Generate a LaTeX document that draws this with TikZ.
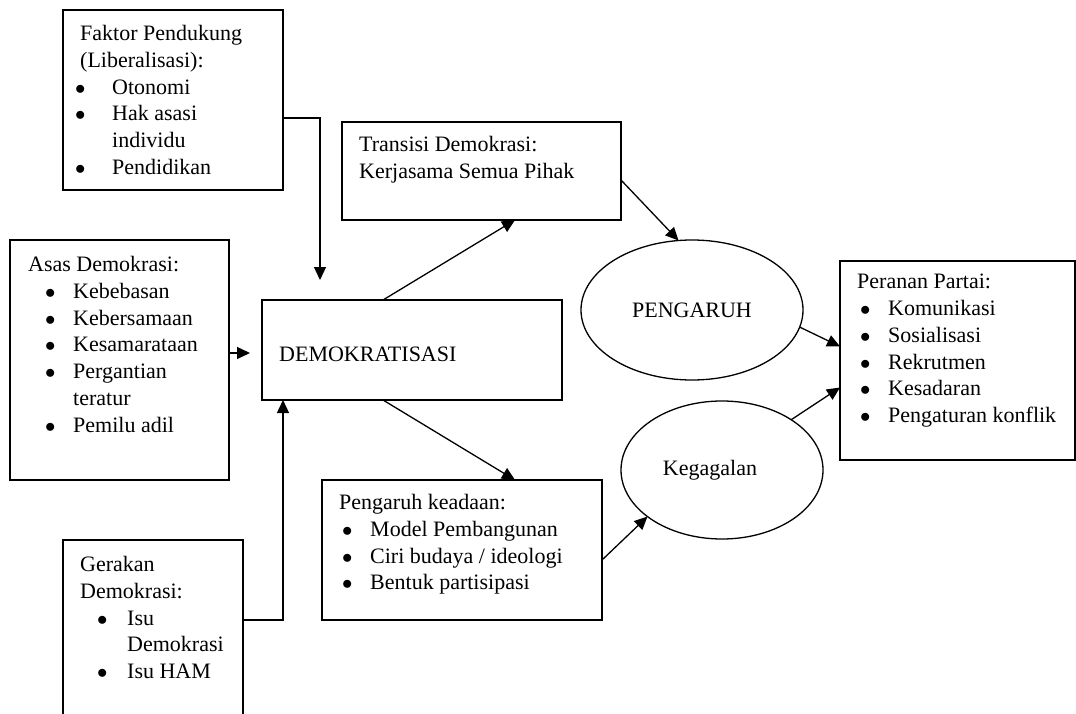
\documentclass[tikz,border=0pt]{standalone}
\usepackage{fontspec}
\setmainfont{Liberation Serif}
\usetikzlibrary{arrows.meta, positioning, shapes.geometric, calc}

\newcommand{\bul}[2]{\hspace*{#1}\makebox[#2][l]{$\bullet$}}

\begin{document}
\begin{tikzpicture}[x=1pt, y=-1pt,
  box/.style={draw, line width=1.3pt, inner sep=0pt, outer sep=0pt,
              anchor=north west},
  oval/.style={draw, ellipse, line width=1.3pt, inner sep=0pt,
               outer sep=0pt, font=\fontsize{22}{26.8}\selectfont},
  txt/.style={inner sep=0pt, anchor=north west, align=left,
              font=\fontsize{22}{26.8}\selectfont},
  link/.style={line width=1.3pt, -{Triangle[length=13pt, width=12pt]}},
]
  \clip (0,0) rectangle (1076,714);

  % === Boxes ===
  \node[box, minimum width=220pt, minimum height=180pt] (faktor) at (63,10) {};
  \node[box, minimum width=219pt, minimum height=240pt] (asas)   at (10,240) {};
  \node[box, minimum width=180pt, minimum height=230pt] (gerak)  at (63,540) {};
  \node[box, minimum width=300pt, minimum height=100pt] (demo)   at (262,300) {};
  \node[box, minimum width=279pt, minimum height=98pt]  (trans)  at (342,122) {};
  \node[box, minimum width=280pt, minimum height=140pt] (keadaan) at (322,480) {};
  \node[box, minimum width=235pt, minimum height=199pt] (peran)  at (840,261) {};

  % === Ellipses ===
  \node[oval, minimum width=222pt, minimum height=140pt] (peng) at (692,310)
    {PENGARUH};
  \node[oval, minimum width=202pt, minimum height=138pt] (keg)  at (722,470)
    {\hspace*{-24pt}Kegagalan};

  % === Texts ===
  \node[txt] (faktortxt) at (80,25) {%
    Faktor Pendukung\\
    (Liberalisasi):\\
    \bul{-5pt}{37pt}Otonomi\\
    \bul{-5pt}{37pt}Hak asasi\\
    \hspace*{32pt}individu\\
    \bul{-5pt}{37pt}Pendidikan};

  \node[txt] (asastxt) at (28,256) {%
    Asas Demokrasi:\\
    \bul{17pt}{28pt}Kebebasan\\
    \bul{17pt}{28pt}Kebersamaan\\
    \bul{17pt}{28pt}Kesamarataan\\
    \bul{17pt}{28pt}Pergantian\\
    \hspace*{45pt}teratur\\
    \bul{17pt}{28pt}Pemilu adil};

  \node[txt] (geraktxt) at (80,556) {%
    Gerakan\\
    Demokrasi:\\
    \bul{17pt}{30pt}Isu\\
    \hspace*{47pt}Demokrasi\\
    \bul{17pt}{30pt}Isu HAM};

  \node[txt, anchor=west] (demotxt) at (279,354) {DEMOKRATISASI};

  \node[txt] (transtxt) at (359,136) {%
    Transisi Demokrasi:\\
    Kerjasama Semua Pihak};

  \node[txt] (keadaantxt) at (339,494) {%
    Pengaruh keadaan:\\
    \bul{3pt}{28pt}Model Pembangunan\\
    \bul{3pt}{28pt}Ciri budaya / ideologi\\
    \bul{3pt}{28pt}Bentuk partisipasi};

  \node[txt] (perantxt) at (857,274) {%
    Peranan Partai:\\
    \bul{3pt}{28pt}Komunikasi\\
    \bul{3pt}{28pt}Sosialisasi\\
    \bul{3pt}{28pt}Rekrutmen\\
    \bul{3pt}{28pt}Kesadaran\\
    \bul{3pt}{28pt}Pengaturan konflik};

  % === Connectors ===
  \draw[link] ([yshift=-18pt]faktor.east)
    -| ([xshift=58pt, yshift=20pt]demo.north west);
  \draw[link] ([yshift=7pt]asas.east) -- ([xshift=-12pt, yshift=-3pt]demo.west);
  \draw[link] ([yshift=-80pt]gerak.north east) -| ([xshift=21pt]demo.south west);
  \draw[link] ([xshift=121pt]demo.north west) -- ([xshift=173pt]trans.south west);
  \draw[link] ([xshift=121pt]demo.south west) -- ([xshift=193pt]keadaan.north west);
  \draw[link] ([yshift=-58pt]trans.north east) -- (peng.101);
  \draw[link] (peng.-9) -- ([yshift=14pt]peran.west);
  \draw[link] ([yshift=-10pt]keadaan.east) -- (keg.212);
  \draw[link] (keg.36) -- ([yshift=-27pt]peran.west);

\end{tikzpicture}
\end{document}
